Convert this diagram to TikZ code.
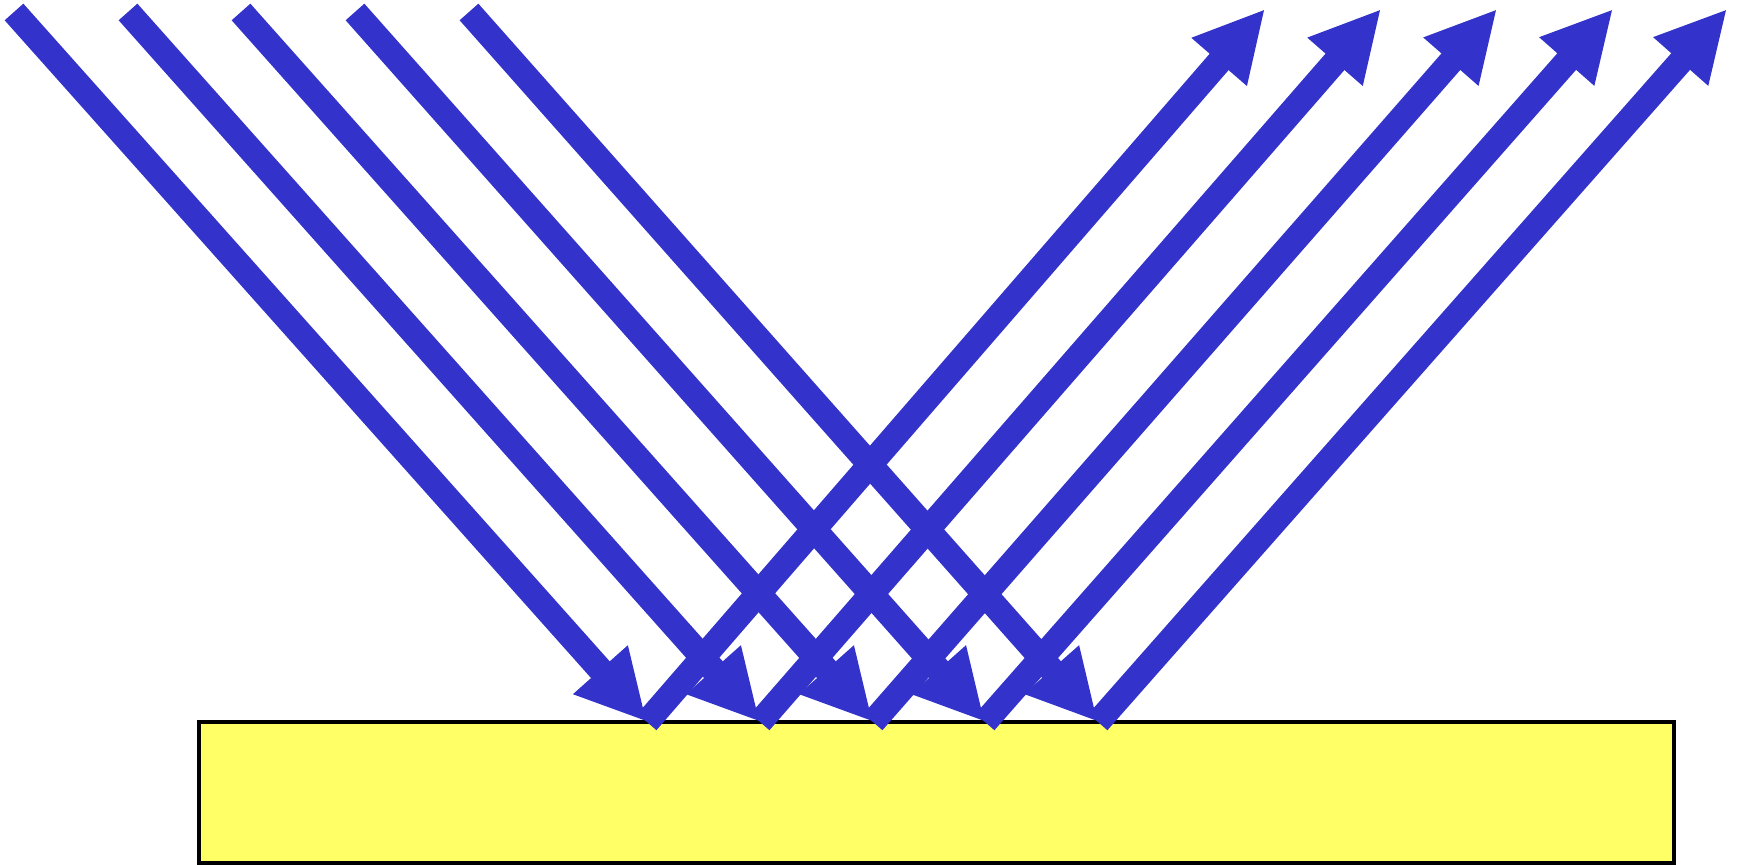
\documentclass[tikz,border=0pt]{standalone}
\usepackage{tikz}
\usetikzlibrary{arrows.meta}
\definecolor{raycol}{RGB}{51,51,204}
\definecolor{slabcol}{RGB}{255,255,102}

\begin{document}
\begin{tikzpicture}[x=0.01cm, y=-0.01cm, >={Triangle[length=7mm, width=6.8mm]},
  ray/.style={->, draw=raycol, line width=2.5mm}]
\useasboundingbox (0,0) rectangle (1739,865);
% incoming rays start
\coordinate (s1) at (14,12);
\coordinate (s2) at (128,12);
\coordinate (s3) at (241,12);
\coordinate (s4) at (355,12);
\coordinate (s5) at (469,12);
% hit points on the slab
\coordinate (h1) at (647,722);
\coordinate (h2) at (760,722);
\coordinate (h3) at (873,722);
\coordinate (h4) at (985,722);
\coordinate (h5) at (1098,722);
% reflected rays end
\coordinate (t1) at (1265,9);
\coordinate (t2) at (1381,9);
\coordinate (t3) at (1497,9);
\coordinate (t4) at (1613,9);
\coordinate (t5) at (1727,9);
% slab
\coordinate (slabNW) at (199,722);
\coordinate (slabSE) at (1674,863);
\draw[fill=slabcol, line width=0.45mm] (slabNW) rectangle (slabSE);
\draw[ray] (s1) -- (h1);
\draw[ray] (s2) -- (h2);
\draw[ray] (s3) -- (h3);
\draw[ray] (s4) -- (h4);
\draw[ray] (s5) -- (h5);
\draw[ray] (h1) -- (t1);
\draw[ray] (h2) -- (t2);
\draw[ray] (h3) -- (t3);
\draw[ray] (h4) -- (t4);
\draw[ray] (h5) -- (t5);
\end{tikzpicture}
\end{document}
